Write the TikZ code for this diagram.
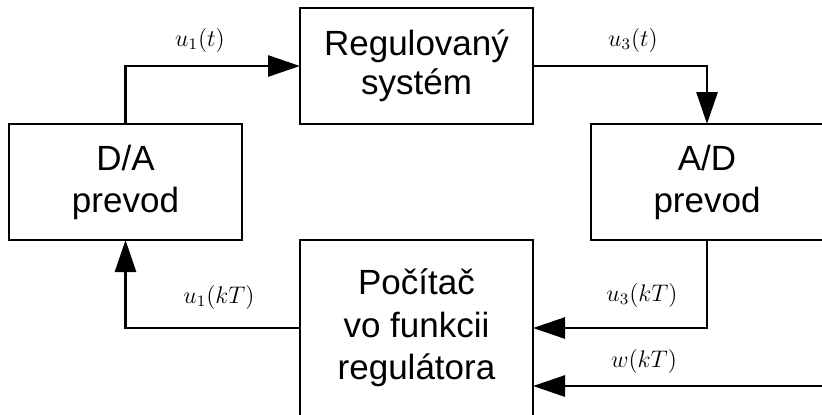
\documentclass[tikz,border=0pt]{standalone}
\usepackage{fontspec}
\setsansfont{Liberation Sans}
\usetikzlibrary{arrows.meta}
\tikzset{
  blk/.style={draw, line width=1.35pt, rectangle, inner sep=0pt, outer sep=0pt,
    align=center, font=\sffamily\fontsize{17.5}{20}\selectfont,
    minimum width=116.5pt, minimum height=58pt},
  arr/.style={line width=1.35pt, -{Triangle[length=16pt,width=10.5pt]}},
  conn/.style={line width=1.35pt},
  lbl/.style={inner sep=0pt, font=\fontsize{12}{14}\selectfont}
}
\begin{document}
\begin{tikzpicture}[x=0.5pt,y=-0.5pt]
\useasboundingbox (0,0) rectangle (822,414);
\clip (0,0) rectangle (822,414);
\node[blk, font=\sffamily\fontsize{17.5}{19.5}\selectfont] (reg) at (416.5,66) {Regulovaný\\systém};
\node[blk, font=\sffamily\fontsize{17.5}{21}\selectfont] (da) at (125.5,182) {D/A\\prevod};
\node[blk, font=\sffamily\fontsize{17.5}{21}\selectfont, minimum width=116pt] (ad) at (707,182) {A/D\\prevod};
\node[blk, font=\sffamily\fontsize{17.5}{21.25}\selectfont, minimum height=88pt] (pc) at (416.5,328) {Počítač\\vo funkcii\\regulátora};
\coordinate (wfree) at (840,386);
\draw[arr] (da.north) |- (reg.west);
\draw[arr] (reg.east) -| (ad.north);
\draw[arr] (ad.south) |- (pc.east);
\draw[arr] (wfree) -- (pc.east |- wfree);
\draw[arr] (pc.west) -| (da.south);
\node[lbl] (l1) at (200,40) {$u_1(t)$};
\node[lbl] (l2) at (633,40) {$u_3(t)$};
\node[lbl] (l3) at (219,297) {$u_1(kT)$};
\node[lbl] (l4) at (642,295) {$u_3(kT)$};
\node[lbl] (l5) at (644,361) {$w(kT)$};
\end{tikzpicture}
\end{document}
